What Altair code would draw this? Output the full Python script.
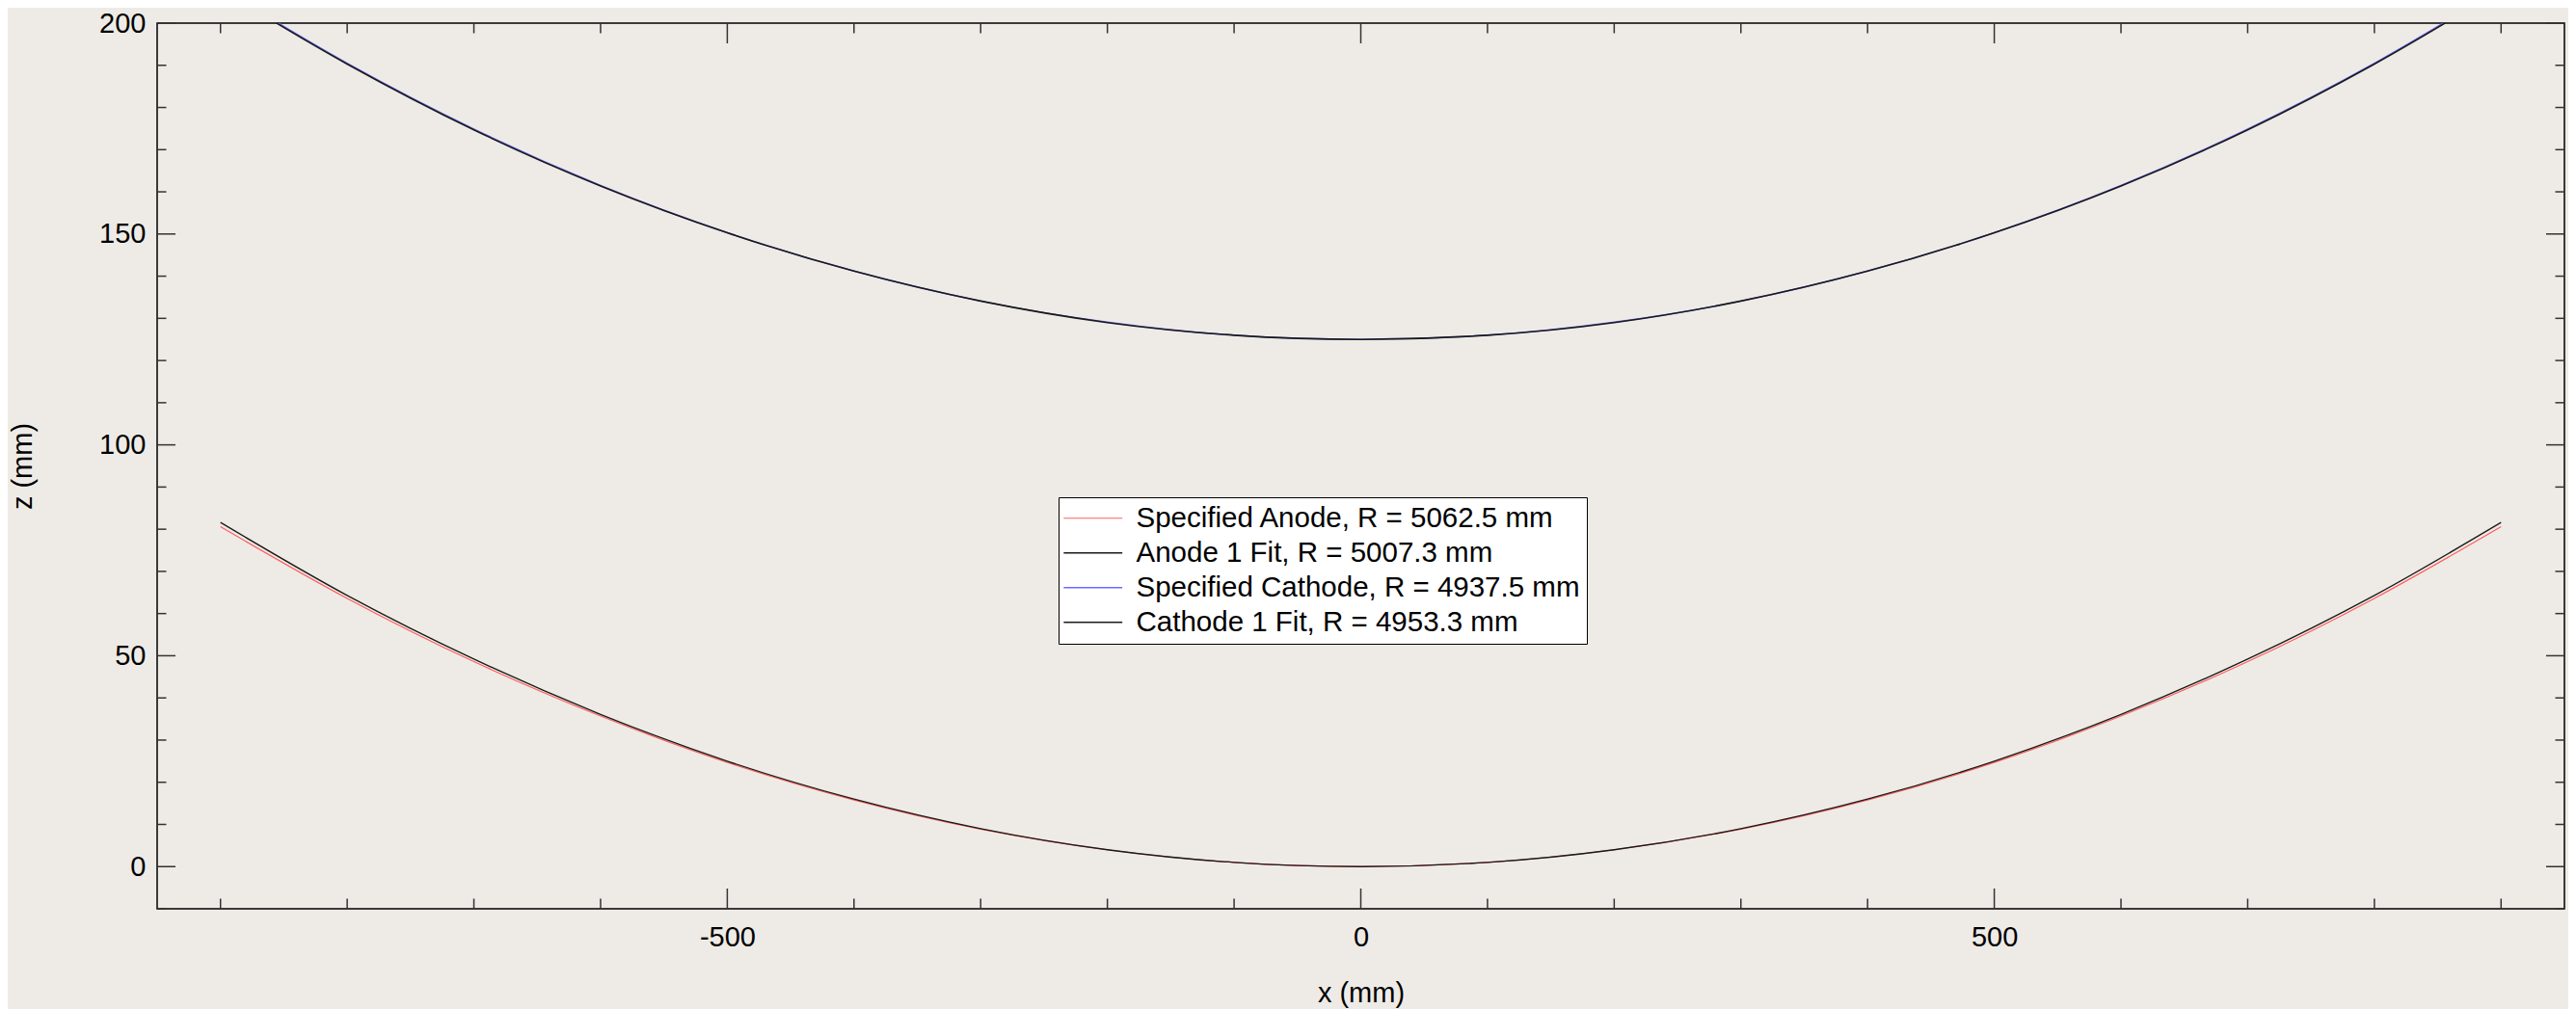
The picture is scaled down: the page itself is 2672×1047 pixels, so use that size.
import altair as alt
import pandas as pd

# ---- data ----
x_mm = [-900, -800, -700, -600, -500, -400, -300, -200, -100, 0,
        100, 200, 300, 400, 500, 600, 700, 800, 900]
spec_anode = [80.6, 63.6, 48.6, 35.7, 24.7, 15.8, 8.9, 4.0, 1.0, 0.0,
              1.0, 4.0, 8.9, 15.8, 24.7, 35.7, 48.6, 63.6, 80.6]
anode_fit = [81.6, 64.3, 49.2, 36.1, 25.0, 16.0, 9.0, 4.0, 1.0, 0.0,
             1.0, 4.0, 9.0, 16.0, 25.0, 36.1, 49.2, 64.3, 81.6]
spec_cathode = [208.3, 190.5, 174.9, 161.5, 150.3, 141.2, 134.1, 129.1, 126.0, 125.0,
                126.0, 129.1, 134.1, 141.2, 150.3, 161.5, 174.9, 190.5, 208.3]
cathode_fit = [208.0, 190.3, 174.7, 161.4, 150.3, 141.2, 134.1, 129.0, 126.0, 125.0,
               126.0, 129.0, 134.1, 141.2, 150.3, 161.4, 174.7, 190.3, 208.0]

series_names = ["Specified Anode, R = 5062.5 mm", "Anode 1 Fit, R = 5007.3 mm",
                "Specified Cathode, R = 4937.5 mm", "Cathode 1 Fit, R = 4953.3 mm"]
series_colors = ["#ff5c5c", "#1a1a1a", "#6a6aff", "#1a1a1a"]
series_widths = [1.2, 1.6, 1.2, 1.6]

x_major_ticks = [-500, 0, 500]
x_minor_ticks = [-900, -800, -700, -600, -400, -300, -200, -100,
                 100, 200, 300, 400, 600, 700, 800, 900]
y_major_ticks = [0, 50, 100, 150, 200]
y_minor_ticks = [-10, 10, 20, 30, 40, 60, 70, 80, 90, 110, 120, 130, 140,
                 160, 170, 180, 190]

# ---- layout ----
W, H = 2497, 919
FONT = "Liberation Sans"
FS = 29
LFS = 29.5
BG = "#EEEBE6"
TICK = "#333333"

rows = []
for name, vals in zip(series_names, [spec_anode, anode_fit, spec_cathode, cathode_fit]):
    for i, (xv, zv) in enumerate(zip(x_mm, vals)):
        rows.append({"series": name, "x": xv, "z": zv, "order": i})
df = pd.DataFrame(rows)

xs = alt.Scale(domain=[-950, 950], nice=False, zero=False)
ys = alt.Scale(domain=[-10, 200], nice=False, zero=False)

x_axis = alt.Axis(values=x_major_ticks, ticks=False, tickSize=0, domain=False,
                  grid=False, labelFont=FONT, labelFontSize=FS, labelColor="black",
                  labelPadding=15, labelExpr="'' + datum.value",
                  title="x (mm)", titleFont=FONT, titleFontSize=FS,
                  titleFontWeight="normal", titleColor="black",
                  titleY=96, titleBaseline="alphabetic")
y_axis = alt.Axis(values=y_major_ticks, ticks=False, tickSize=0, domain=False,
                  grid=False, labelFont=FONT, labelFontSize=FS, labelColor="black",
                  labelPadding=12, labelExpr="'' + datum.value",
                  title="z (mm)", titleFont=FONT, titleFontSize=FS,
                  titleFontWeight="normal", titleColor="black",
                  titleAngle=270, titleX=-131, titleY=H / 2,
                  titleBaseline="alphabetic", titleAlign="center")

lines = alt.Chart(df).mark_line(interpolate="monotone", clip=True).encode(
    x=alt.X("x:Q", scale=xs, axis=x_axis),
    y=alt.Y("z:Q", scale=ys, axis=y_axis),
    color=alt.Color("series:N",
                    scale=alt.Scale(domain=series_names, range=series_colors),
                    legend=alt.Legend(orient="none", legendX=935, legendY=492,
                                      title=None, fillColor="white", strokeColor="black",
                                      padding=7, symbolType="M-3.2,0H3.2", symbolSize=361,
                                      symbolStrokeWidth=1.5, symbolOffset=14,
                                      labelOffset=30, labelFont=FONT, labelFontSize=LFS,
                                      labelColor="black", rowPadding=5,
                                      labelLimit=1000)),
    strokeWidth=alt.StrokeWidth("series:N",
                                scale=alt.Scale(domain=series_names, range=series_widths),
                                legend=None),
    order=alt.Order("order:Q"),
)


def xticks(vals, length, top):
    d = pd.DataFrame({"v": vals})
    if top:
        yy, yy2 = alt.value(0), alt.value(length)
    else:
        yy, yy2 = alt.value(H), alt.value(H - length)
    return alt.Chart(d).mark_rule(color=TICK, strokeWidth=1.5).encode(
        x=alt.X("v:Q", scale=xs, axis=x_axis), y=yy, y2=yy2)


def yticks(vals, length, right):
    d = pd.DataFrame({"v": vals})
    if right:
        xx, xx2 = alt.value(W), alt.value(W - length)
    else:
        xx, xx2 = alt.value(0), alt.value(length)
    return alt.Chart(d).mark_rule(color=TICK, strokeWidth=1.5).encode(
        y=alt.Y("v:Q", scale=ys, axis=y_axis), x=xx, x2=xx2)


tick_layers = [
    xticks(x_major_ticks, 21, False), xticks(x_minor_ticks, 10.5, False),
    xticks(x_major_ticks, 21, True), xticks(x_minor_ticks, 10.5, True),
    yticks(y_major_ticks, 19, False), yticks(y_minor_ticks, 9.5, False),
    yticks(y_major_ticks, 19, True), yticks(y_minor_ticks, 9.5, True),
]

chart = alt.layer(lines, *tick_layers).properties(
    width=W, height=H,
    autosize=alt.AutoSizeParams(type="none"),
    padding={"left": 155, "top": 16, "right": 4, "bottom": 104},
    background=BG,
).configure_view(
    stroke="black", strokeWidth=1.5, fill=BG
)

chart.save("out.html", embed_options={"renderer": "svg", "actions": False})
